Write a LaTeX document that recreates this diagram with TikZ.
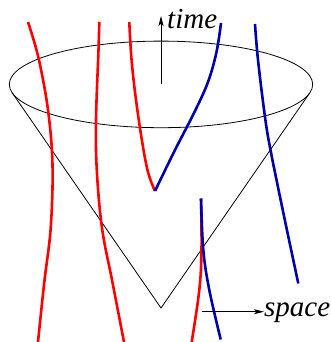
\documentclass[tikz,border=0pt]{standalone}
\usepackage{fontspec}
\setmainfont{Liberation Serif}
\usetikzlibrary{arrows.meta}
\definecolor{wlred}{RGB}{255,0,0}
\definecolor{wlblue}{RGB}{0,0,168}
\begin{document}
\begin{tikzpicture}[x=1pt,y=-1pt,
  worldline/.style={line width=2.6pt,line cap=butt},
  redline/.style={worldline,wlred},
  blueline/.style={worldline,wlblue},
  thin black/.style={line width=0.8pt,black},
  axisarrow/.style={line width=0.8pt,-{Stealth[length=10pt,width=5pt,inset=2.5pt]}},
  lbl/.style={inner sep=0pt,font=\fontsize{29}{32}\selectfont\itshape}]
\useasboundingbox (0,0) rectangle (331,342);
% cone
\coordinate (apex) at (161,308);
\coordinate (tl) at (12.2,92.8);
\coordinate (tr) at (309.8,92.8);
\draw[thin black] (161,84.4) ellipse [x radius=151.7,y radius=43.3];
\draw[thin black] (tl) -- (apex) -- (tr);
% world lines
\draw[redline] plot[smooth,tension=0.6] coordinates {(28,22) (38.5,58) (48,110) (52.5,165) (50.7,228) (44.3,282) (38,342)};
\draw[redline] plot[smooth,tension=0.6] coordinates {(99.3,22) (98.5,50) (96,120) (96.8,170) (102,228) (112.4,282) (124,342)};
\draw[redline] plot[smooth,tension=0.6] coordinates {(129.3,22) (132,65) (138.5,118) (147,168) (155,191)};
\draw[blueline] plot[smooth,tension=0.6] coordinates {(155,191) (175,150) (194,113) (208,82) (216.5,52) (221,23)};
\draw[blueline] plot[smooth,tension=0.6] coordinates {(255,24) (258,60) (265,117) (270.5,150) (284.2,217) (298.3,283.5)};
\draw[redline] plot[smooth,tension=0.6] coordinates {(201,198.5) (201.5,250) (199.3,290) (191.7,342)};
\draw[blueline] plot[smooth,tension=0.6] coordinates {(201,198.5) (203.3,250) (209.3,290) (220.7,339.5)};
% axes
\coordinate (tbot) at (161,84.4);
\coordinate (ttop) at (161,16);
\draw[axisarrow] (tbot) -- (ttop);
\node[lbl,anchor=base west] (time) at (167,28.5) {time};
\coordinate (sl) at (202,311.7);
\coordinate (sr) at (264,311.7);
\draw[axisarrow] (sl) -- (sr);
\node[lbl,anchor=base west] (space) at (264,316.7) {space};
\end{tikzpicture}
\end{document}
